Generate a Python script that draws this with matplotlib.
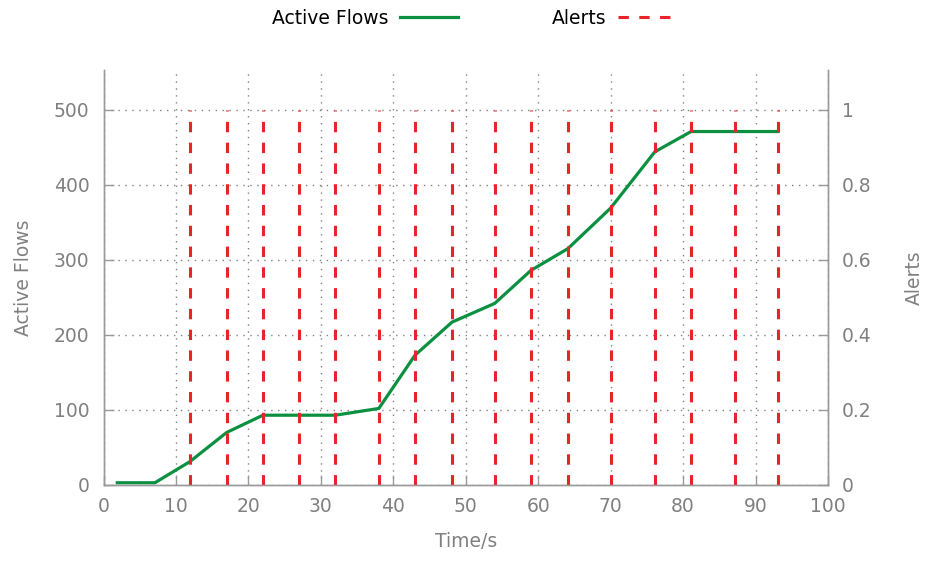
import matplotlib
matplotlib.use("Agg")
import matplotlib.pyplot as plt
from matplotlib.lines import Line2D
from matplotlib.ticker import FuncFormatter

# ---- data ----
flow_times = [1.9, 7.1, 11.9, 17.0, 22.0, 27.0, 32.0, 38.0, 43.0, 48.1, 54.0,
              59.0, 64.1, 70.0, 76.1, 81.1, 87.2, 93.1]
active_flows = [3, 3, 31, 70, 93, 93, 93, 102, 173, 217, 242, 286, 315, 369,
                444, 471, 471, 471]
alert_times = [11.9, 17.0, 22.0, 27.0, 32.0, 38.0, 43.0, 48.1, 54.0, 59.0,
               64.1, 70.0, 76.1, 81.1, 87.2, 93.1]
alert_values = [1, 1, 1, 1, 1, 1, 1, 1, 1, 1, 1, 1, 1, 1, 1, 1]
x_ticks = [0, 10, 20, 30, 40, 50, 60, 70, 80, 90, 100]
left_ticks = [0, 100, 200, 300, 400, 500]
right_ticks = [0, 0.2, 0.4, 0.6, 0.8, 1]

GREEN = "#0a9040"
RED = "#e8242b"
GRAY = "#808080"
AXIS = "#9a9a9a"
FS = 13.5

plt.rcParams["font.family"] = ["DejaVu Sans"]

fig = plt.figure(figsize=(9.25, 5.66), dpi=100)
ax = fig.add_subplot(111)
fig.subplots_adjust(left=103.5 / 925, right=828 / 925, top=1 - 70 / 566,
                    bottom=1 - 485 / 566)
ax2 = ax.twinx()

ax.plot(flow_times, active_flows, color=GREEN, lw=2.3, solid_joinstyle="miter")
ax2.vlines(alert_times, 0, alert_values, colors=RED, lw=2.2,
           linestyles=(0, (3.4, 3.4)))

ax.set_xlim(0, 100)
ax.set_ylim(0, 553)
ax2.set_ylim(0, 553 / 500)
ax.set_xticks(x_ticks)
ax.set_yticks(left_ticks)
ax2.set_yticks(right_ticks)
ax2.yaxis.set_major_formatter(FuncFormatter(lambda v, p: "%g" % v))

ax.grid(True, color=GRAY, linestyle=(0, (1, 4)), lw=1)
ax.set_axisbelow(True)

for a in (ax, ax2):
    a.spines["top"].set_visible(False)
    for s in ("left", "right", "bottom"):
        a.spines[s].set_color(AXIS)
        a.spines[s].set_linewidth(1)
    a.tick_params(direction="in", colors=AXIS, labelcolor=GRAY, labelsize=FS,
                  length=7, width=1)
ax.tick_params(axis="x", pad=9)
ax.tick_params(axis="y", pad=10)
ax2.tick_params(axis="y", pad=10)

ax.set_xlabel("Time/s", color=GRAY, fontsize=FS, labelpad=11)
ax.set_ylabel("Active Flows", color=GRAY, fontsize=FS, labelpad=15)
ax2.set_ylabel("Alerts", color=GRAY, fontsize=FS, labelpad=24)

handles = [Line2D([], [], color=GREEN, lw=2.3),
           Line2D([], [], color=RED, lw=2.2, linestyle=(0, (3.4, 3.4)))]
fig.legend(handles, ["Active Flows", "Alerts"], loc="center",
           bbox_to_anchor=(474 / 925, 1 - 18 / 566), ncol=2, frameon=False,
           markerfirst=False, fontsize=FS, handlelength=3.1,
           handletextpad=0.6, columnspacing=5.0)

fig.savefig("out.png", dpi=100)
